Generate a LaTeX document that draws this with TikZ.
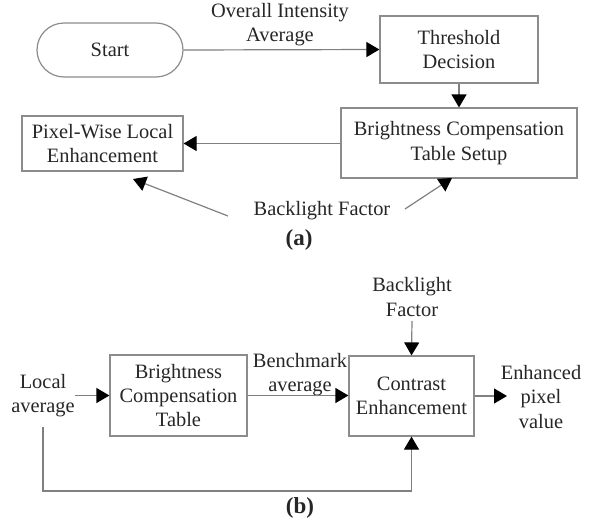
\documentclass[tikz,border=0pt]{standalone}
\usepackage{fontspec}
\setmainfont{Liberation Serif}
\usetikzlibrary{arrows.meta}
\begin{document}
\begin{tikzpicture}[x=0.5pt,y=-0.5pt,
  every node/.style={font=\fontsize{10.2}{12.2}\selectfont, text=black!85},
  box/.style={draw=black!45, line width=0.6pt, rectangle, align=center, inner sep=0pt},
  lbl/.style={align=center, inner sep=0pt},
  subcap/.style={inner sep=0pt, font=\fontsize{11.5}{13}\selectfont\bfseries},
  conn/.style={draw=black!50, line width=0.6pt},
  arr/.style={conn, -{Triangle[length=6.5pt,width=7.5pt,color=black,fill=black]}}
]
\useasboundingbox (0,0) rectangle (595,525);
% ---- (a) ----
\node[box, rounded corners=13.5pt, minimum width=73pt, minimum height=27pt] (start) at (110,50) {Start};
\node[box, minimum width=79pt, minimum height=33.5pt] (td) at (459,49.5) {Threshold\\Decision};
\node[box, minimum width=118pt, minimum height=35pt] (bcs) at (459,143) {Brightness Compensation\\Table Setup};
\node[box, minimum width=80.5pt, minimum height=27.5pt] (pix) at (102.5,143.5) {Pixel-Wise Local\\Enhancement};
\node[lbl] (oia) at (280,24.5) {Overall Intensity\\Average};
\node[lbl] (bfa) at (322,211) {Backlight Factor};
\node[subcap] (capa) at (299,240) {(a)};
\coordinate (bl1) at (228,216);
\coordinate (pixtip) at (133,179);
\coordinate (br1) at (405,209);
\coordinate (bcstip) at (452,178);
\draw[arr] (start.east) -- (td.west);
\draw[arr] (td.south) -- (bcs.north);
\draw[arr] (bcs.west |- pix.east) -- (pix.east);
\draw[arr] (bl1) -- (pixtip);
\draw[arr] (br1) -- (bcstip);
% ---- (b) ----
\node[box, minimum width=68.5pt, minimum height=40.5pt] (bct) at (178.5,395.5) {Brightness\\Compensation\\Table};
\node[box, minimum width=62.5pt, minimum height=40pt] (ce) at (411.5,396) {Contrast\\Enhancement};
\node[lbl] (la) at (43,395.5) {Local\\average};
\node[lbl] (ba) at (300,374.5) {Benchmark\\average};
\node[lbl] (epv) at (541,397) {Enhanced\\pixel\\value};
\node[lbl, inner sep=2pt] (bfb) at (412,297) {Backlight\\Factor};
\node[subcap] (capb) at (300,508) {(b)};
\coordinate (fbl) at (43,491);
\coordinate (eptip) at (507,396);
\draw[arr] (la.east |- bct.west) -- (bct.west);
\draw[arr] (bct.east) -- (bct.east -| ce.west);
\draw[arr] (ce.east) -- (eptip);
\draw[arr] (bfb.south) -- (ce.north);
\draw[arr] ([yshift=-5pt]la.south) -- (la.south |- fbl) -| (ce.south);
\end{tikzpicture}
\end{document}
